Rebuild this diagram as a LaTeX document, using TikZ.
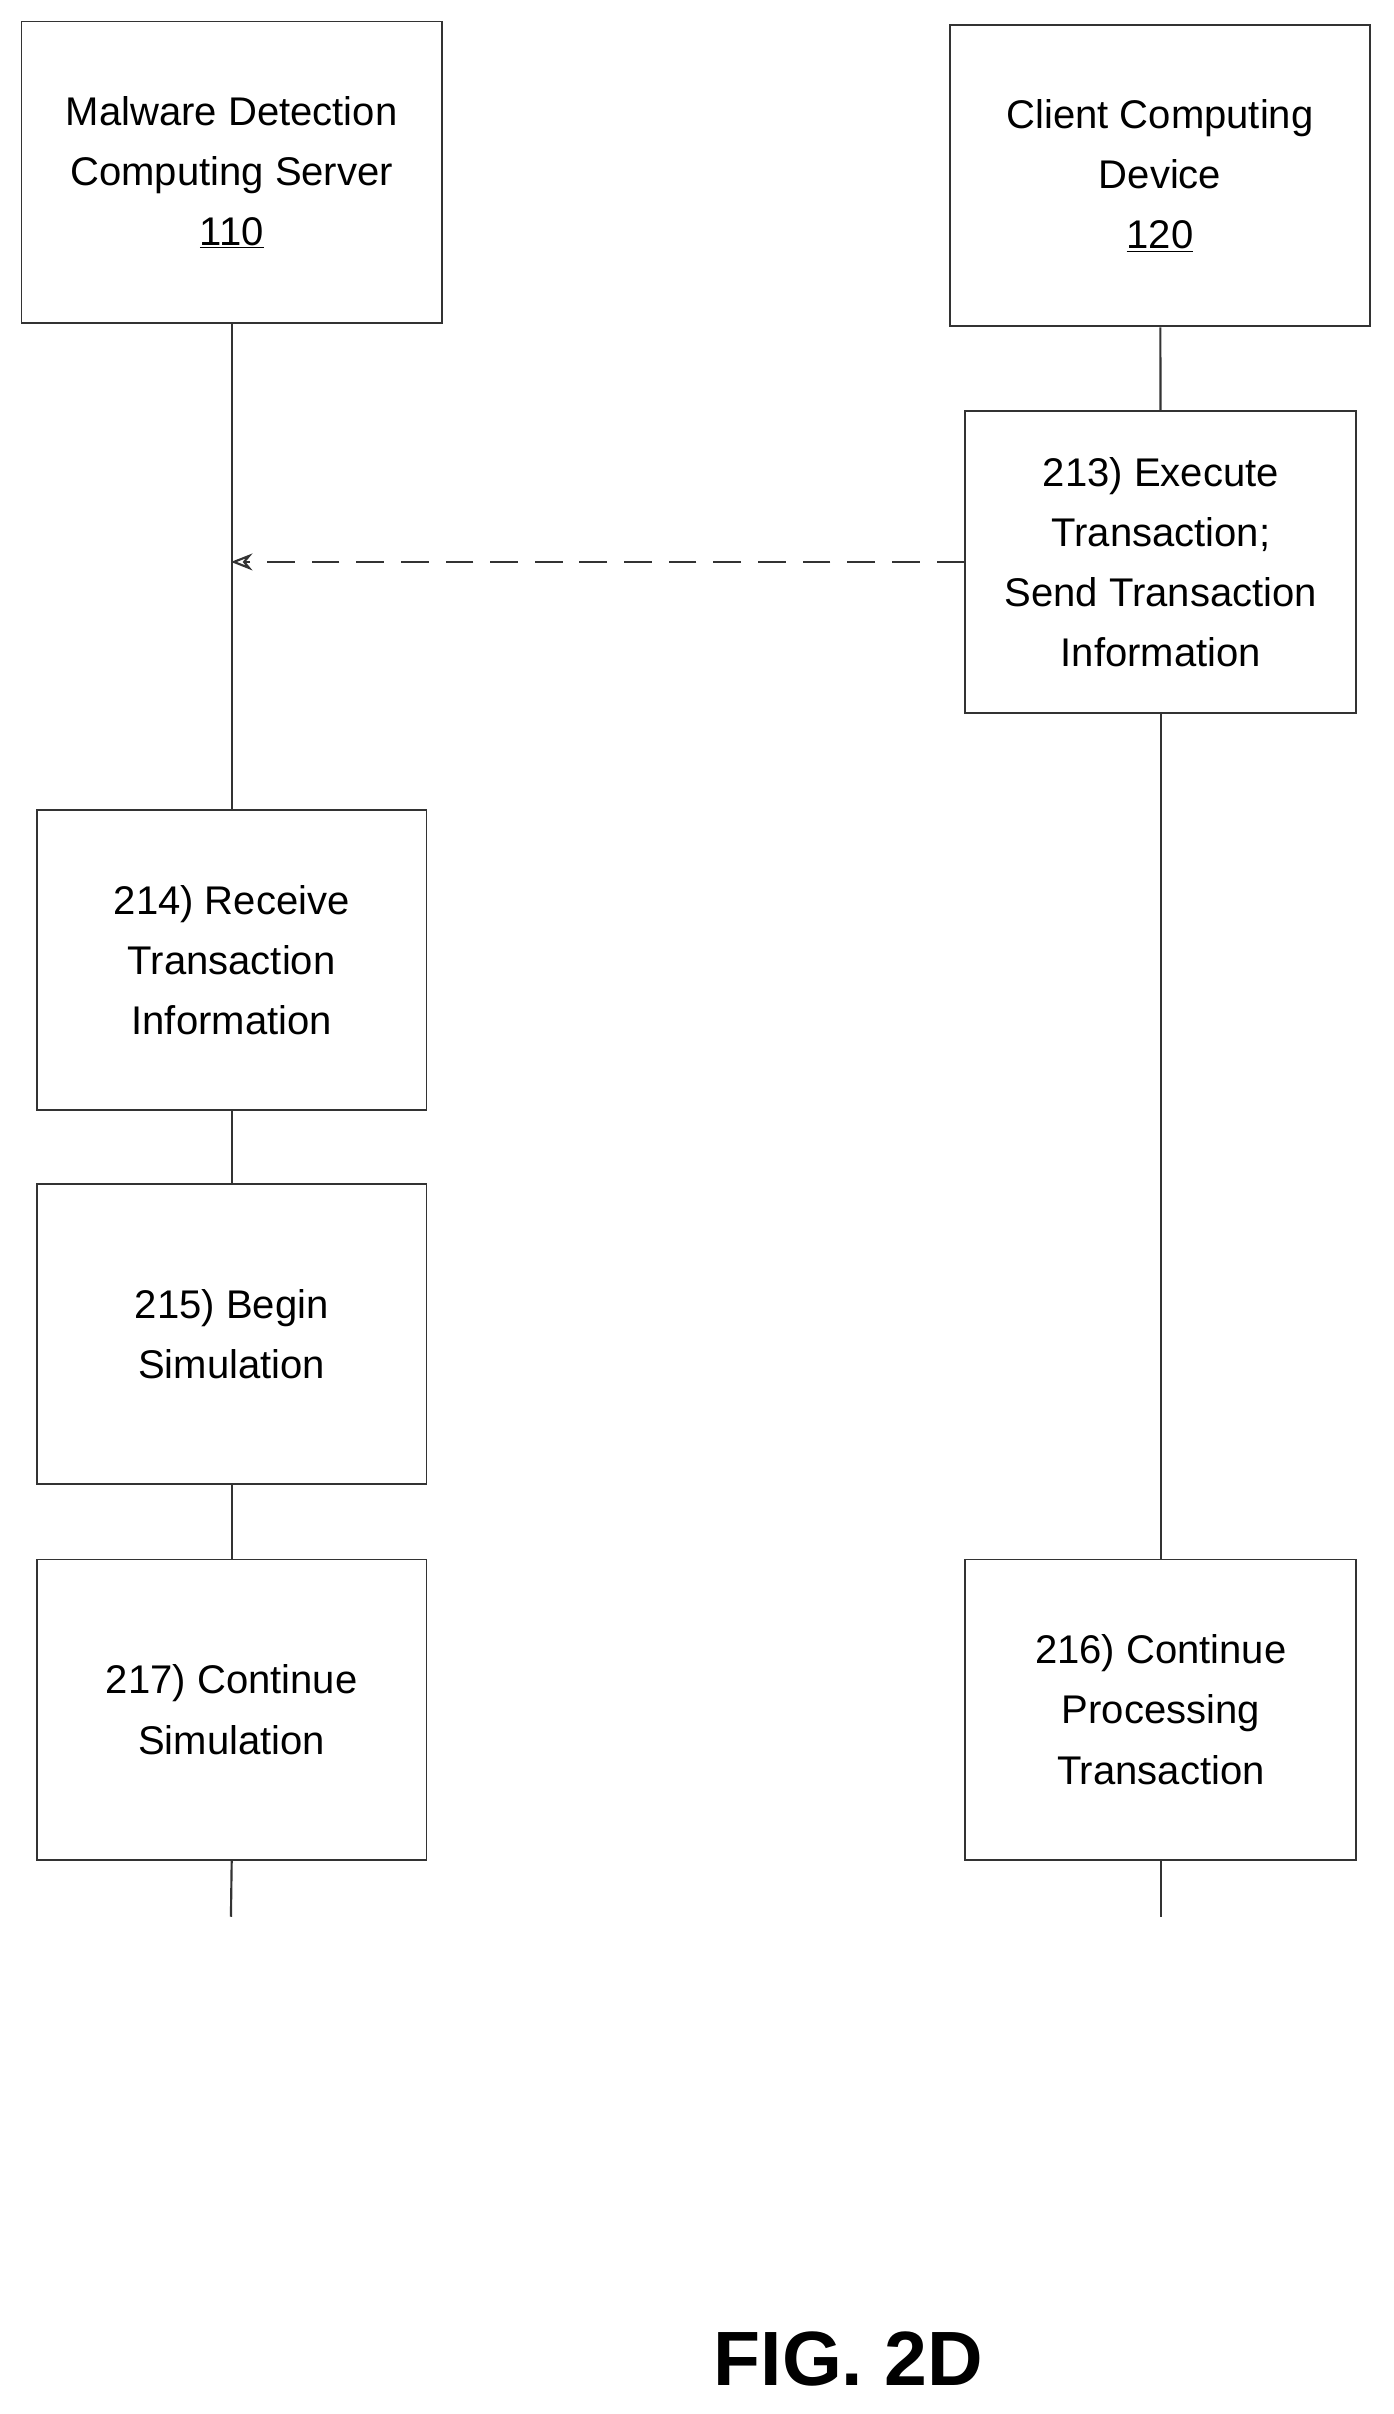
\documentclass[tikz,border=0pt]{standalone}
\usepackage{fontspec}
\setmainfont{Liberation Sans}
\usetikzlibrary{arrows.meta}
\begin{document}
\begin{tikzpicture}[x=1pt,y=-1pt,
  box/.style={draw=black!80,line width=1.2pt,minimum width=#1,inner sep=0pt,align=center,font=\fontsize{26}{39}\selectfont},
  life/.style={draw=black!80,line width=1.4pt}]
\useasboundingbox (0,0) rectangle (905,1568);
\node[box=273pt,minimum height=196pt] (srv) at (150.5,112) {Malware Detection\\Computing Server\\\underline{110}};
\node[box=273pt,minimum height=196pt] (cli) at (753.5,114) {Client Computing\\Device\\\underline{120}};
\node[box=254pt,minimum height=196pt] (s213) at (754,365) {213) Execute\\Transaction;\\Send Transaction\\Information};
\node[box=253pt,minimum height=195pt] (s214) at (150.5,623.5) {214) Receive\\Transaction\\Information};
\node[box=253pt,minimum height=195pt] (s215) at (150.5,866.5) {215) Begin\\Simulation};
\node[box=253pt,minimum height=195pt] (s217) at (150.5,1110.5) {217) Continue\\Simulation};
\node[box=254pt,minimum height=195pt] (s216) at (754,1110.5) {216) Continue\\Processing\\Transaction};
\coordinate (e1) at (150,1245);
\coordinate (e2) at (754,1245);
\coordinate (tip) at (150,365);
\draw[life] (srv) -- (s214);
\draw[life] (s214) -- (s215);
\draw[life] (s215) -- (s217);
\draw[life] (s217.south) -- (e1);
\draw[life] (cli) -- (s213);
\draw[life] (s213) -- (s216);
\draw[life] (s216.south) -- (e2);
\draw[life,dash pattern=on 18pt off 11pt,-{Stealth[length=14pt,width=11pt,open]}] (s213.west) -- (tip);
\node[font=\bfseries\fontsize{50}{60}\selectfont] (fig) at (551,1532) {FIG. 2D};
\end{tikzpicture}
\end{document}
